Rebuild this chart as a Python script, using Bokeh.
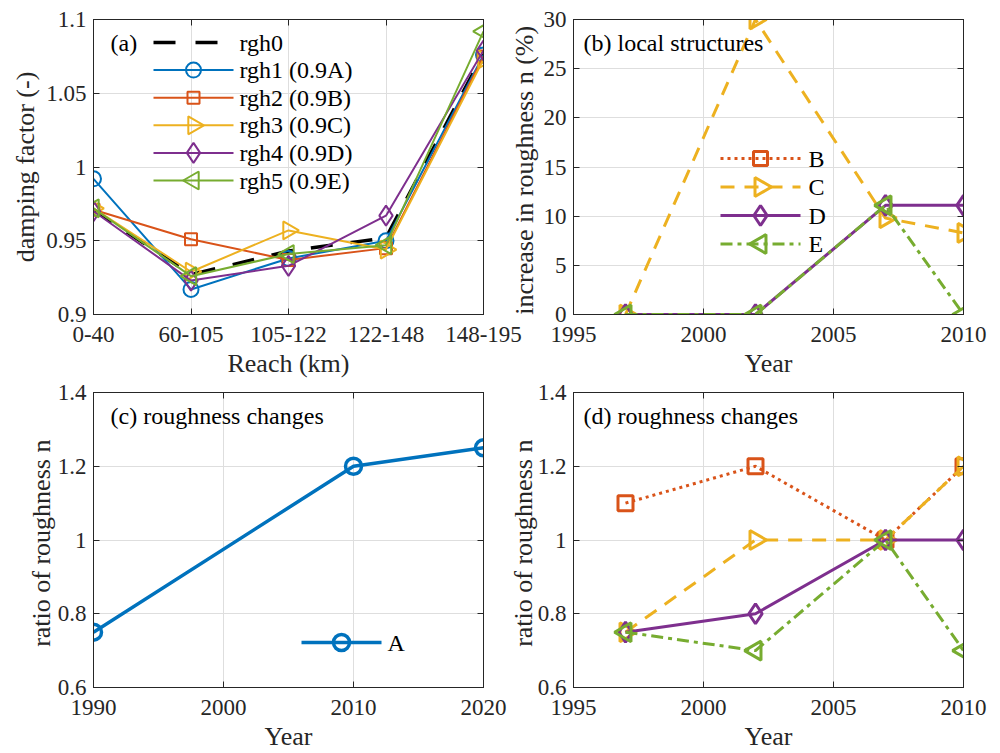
import numpy as np
from bokeh.plotting import figure
from bokeh.models import (FixedTicker, CustomJSTickFormatter, Label, LinearAxis, Range1d)
from bokeh.layouts import row, column
from bokeh.embed import file_html
from bokeh.resources import INLINE

# ---------------- data ----------------
reaches = ["0-40", "60-105", "105-122", "122-148", "148-195"]
reach_pos = [1, 2, 3, 4, 5]
rgh0 = [0.971, 0.927, 0.943, 0.952, 1.077]
rgh1 = [0.992, 0.917, 0.938, 0.950, 1.076]
rgh2 = [0.971, 0.951, 0.937, 0.945, 1.075]
rgh3 = [0.972, 0.929, 0.957, 0.944, 1.073]
rgh4 = [0.970, 0.923, 0.933, 0.967, 1.079]
rgh5 = [0.972, 0.926, 0.941, 0.947, 1.092]

years_b = [1997, 2002, 2007, 2010]
inc_B = [float("nan")] * 4          # B appears only in the legend
inc_C = [0, 30, 9.8, 8.3]
inc_D = [0, 0, 11.1, 11.1]
inc_E = [0, 0, 11.1, 0]

years_c = [1990, 2010, 2020]
ratio_A = [0.75, 1.2, 1.25]

years_d = [1997, 2002, 2007, 2010]
ratio_B = [1.1, 1.2, 1.0, 1.2]
ratio_C = [0.75, 1.0, 1.0, 1.2]
ratio_D = [0.75, 0.8, 1.0, 1.0]
ratio_E = [0.75, 0.7, 1.0, 0.7]

yt_a = [0.9, 0.95, 1.0, 1.05, 1.1]
yt_b = [0, 5, 10, 15, 20, 25, 30]
xt_b = [1995, 2000, 2005, 2010]
xt_c = [1990, 2000, 2010, 2020]
yt_cd = [0.6, 0.8, 1.0, 1.2, 1.4]

# ---------------- style ----------------
BLUE = "#0072BD"; ORANGE = "#D95319"; YELLOW = "#EDB120"
PURPLE = "#7E2F8E"; GREEN = "#77AC30"; AX = "#262626"
FONT = "Liberation Serif"
FW, FH = 390, 295          # frame size in px
NUMFMT = CustomJSTickFormatter(code="return tick.toString()")
RIGHT = -np.pi / 2
LEFT = np.pi / 2


def style_axis(ax, ticks, show=True, formatter=None, standoff=6):
    ax.ticker = FixedTicker(ticks=ticks)
    ax.major_tick_in = 6
    ax.major_tick_out = 0
    ax.minor_tick_in = 0
    ax.minor_tick_out = 0
    ax.axis_line_color = AX
    ax.major_tick_line_color = AX
    ax.major_label_text_font = FONT
    ax.axis_label_text_font = FONT
    ax.axis_label_text_font_style = "normal"
    ax.axis_label_text_color = AX
    ax.axis_label_text_font_size = "26px"
    if show:
        ax.major_label_text_color = AX
        ax.major_label_text_font_size = "23px"
        ax.major_label_standoff = standoff
        ax.formatter = formatter if formatter is not None else NUMFMT
    else:
        ax.major_label_text_color = None
        ax.major_label_text_alpha = 0
        ax.major_label_text_font_size = "1px"
        ax.major_label_standoff = 0


def make_fig(xr, yr, xticks, yticks, xlabel, ylabel, left, right, top, bottom,
             xformatter=None, ylab_stand=4):
    p = figure(frame_width=FW, frame_height=FH, x_range=xr, y_range=yr,
               output_backend="svg", toolbar_location=None,
               min_border_left=left, min_border_right=right,
               min_border_top=top, min_border_bottom=bottom,
               border_fill_color=None, background_fill_color="white")
    p.extra_x_ranges = {"lx": Range1d(0, FW)}
    p.extra_y_ranges = {"ly": Range1d(0, FH)}
    p.outline_line_color = AX
    p.outline_line_width = 1
    p.xgrid.ticker = FixedTicker(ticks=xticks)
    p.ygrid.ticker = FixedTicker(ticks=yticks)
    p.xgrid.grid_line_color = "#dedede"
    p.ygrid.grid_line_color = "#dedede"
    style_axis(p.xaxis[0], xticks, True, xformatter, standoff=12)
    style_axis(p.yaxis[0], yticks, True, standoff=7)
    p.xaxis[0].axis_label = xlabel
    p.xaxis[0].axis_label_standoff = 4
    p.yaxis[0].axis_label = ylabel
    p.yaxis[0].axis_label_standoff = ylab_stand
    top_ax = LinearAxis()
    style_axis(top_ax, xticks, False)
    right_ax = LinearAxis()
    style_axis(right_ax, yticks, False)
    p.add_layout(top_ax, "above")
    p.add_layout(right_ax, "right")
    return p


def series(p, x, y, color, lw, dash, marker, size, angle=0.0):
    p.line(x, y, line_color=color, line_width=lw, line_dash=dash)
    if marker is not None:
        p.scatter(x, y, marker=marker, size=size, angle=angle,
                  fill_color=None, line_color=color, line_width=lw)


def text(p, x, y, s, size="24px"):
    p.add_layout(Label(x=x, y=y, x_range_name="lx", y_range_name="ly", text=s,
                       text_font=FONT, text_font_size=size, text_color="black",
                       text_baseline="middle", text_align="left"))


def legend_entry(p, ly, x0, color, lw, dash, marker, size, label, angle=0.0, tx=None):
    x1 = x0 + 80
    p.line([x0, x1], [ly, ly], x_range_name="lx", y_range_name="ly",
           line_color=color, line_width=lw, line_dash=dash)
    if marker is not None:
        p.scatter([(x0 + x1) / 2], [ly], x_range_name="lx", y_range_name="ly",
                  marker=marker, size=size, angle=angle, fill_color=None,
                  line_color=color, line_width=lw)
    text(p, x1 + 6 if tx is None else tx, ly, label)


# ---------------- panel (a) ----------------
reach_fmt = CustomJSTickFormatter(args=dict(labels=reaches),
                                  code="return labels[Math.round(tick) - 1];")
pa = make_fig(Range1d(1, 5), Range1d(0.9, 1.1), reach_pos, yt_a,
              "Reach (km)", "damping factor (-)", 93, 55, 19, 61,
              xformatter=reach_fmt, ylab_stand=3)
series(pa, reach_pos, rgh0, "black", 3.5, "22 18", None, 0)
series(pa, reach_pos, rgh1, BLUE, 2, "solid", "circle", 15)
series(pa, reach_pos, rgh2, ORANGE, 2, "solid", "square", 12)
series(pa, reach_pos, rgh3, YELLOW, 2, "solid", "triangle", 18, RIGHT)
series(pa, reach_pos, rgh4, PURPLE, 2, "solid", "diamond", 20)
series(pa, reach_pos, rgh5, GREEN, 2, "solid", "triangle", 18, LEFT)
rows_a = [272, 244.4, 216.8, 189.2, 161.6, 134]
legend_entry(pa, rows_a[0], 60, "black", 3.5, "22 20", None, 0, "rgh0")
legend_entry(pa, rows_a[1], 60, BLUE, 2, "solid", "circle", 15, "rgh1 (0.9A)")
legend_entry(pa, rows_a[2], 60, ORANGE, 2, "solid", "square", 12, "rgh2 (0.9B)")
legend_entry(pa, rows_a[3], 60, YELLOW, 2, "solid", "triangle", 18, "rgh3 (0.9C)", RIGHT)
legend_entry(pa, rows_a[4], 60, PURPLE, 2, "solid", "diamond", 20, "rgh4 (0.9D)")
legend_entry(pa, rows_a[5], 60, GREEN, 2, "solid", "triangle", 18, "rgh5 (0.9E)", LEFT)
text(pa, 17, 272, "(a)")

# ---------------- panel (b) ----------------
pb = make_fig(Range1d(1995, 2010), Range1d(0, 30), xt_b, yt_b,
              "Year", "increase in roughness  n (%)", 68, 35, 19, 61, ylab_stand=2)
series(pb, years_b, inc_B, ORANGE, 3, "3 4", "square", 14)
series(pb, years_b, inc_C, YELLOW, 3, "14 10", "triangle", 19, RIGHT)
series(pb, years_b, inc_D, PURPLE, 3, "solid", "diamond", 20)
series(pb, years_b, inc_E, GREEN, 3, "12 5 4 5", "triangle", 19, LEFT)
rows_b = [156, 127.5, 99, 70.5]
legend_entry(pb, rows_b[0], 147, ORANGE, 3, "3 4", "square", 14, "B", tx=235)
legend_entry(pb, rows_b[1], 147, YELLOW, 3, "14 10", "triangle", 19, "C", RIGHT, tx=235)
legend_entry(pb, rows_b[2], 147, PURPLE, 3, "solid", "diamond", 20, "D", tx=235)
legend_entry(pb, rows_b[3], 147, GREEN, 3, "12 5 4 5", "triangle", 19, "E", LEFT, tx=235)
text(pb, 10, 272, "(b) local structures")

# ---------------- panel (c) ----------------
pc = make_fig(Range1d(1990, 2020), Range1d(0.6, 1.4), xt_c, yt_cd,
              "Year", "ratio of roughness  n", 93, 55, 12, 62, ylab_stand=-1)
series(pc, years_c, ratio_A, BLUE, 3.5, "solid", "circle", 16)
legend_entry(pc, 45, 208, BLUE, 3.5, "solid", "circle", 16, "A", tx=294)
text(pc, 17, 272, "(c) roughness changes")

# ---------------- panel (d) ----------------
pd_ = make_fig(Range1d(1995, 2010), Range1d(0.6, 1.4), xt_b, yt_cd,
               "Year", "ratio of roughness  n", 68, 35, 12, 62, ylab_stand=-3)
series(pd_, years_d, ratio_B, ORANGE, 3, "3 4", "square", 15)
series(pd_, years_d, ratio_C, YELLOW, 3, "14 10", "triangle", 19, RIGHT)
series(pd_, years_d, ratio_D, PURPLE, 3, "solid", "diamond", 20)
series(pd_, years_d, ratio_E, GREEN, 3, "12 5 4 5", "triangle", 19, LEFT)
text(pd_, 10, 272, "(d) roughness changes")

pb.styles = {"margin-left": "-33px"}
pd_.styles = {"margin-left": "-33px"}

layout = column(row(pa, pb), row(pc, pd_))
open("out.html", "w").write(file_html(layout, INLINE))
